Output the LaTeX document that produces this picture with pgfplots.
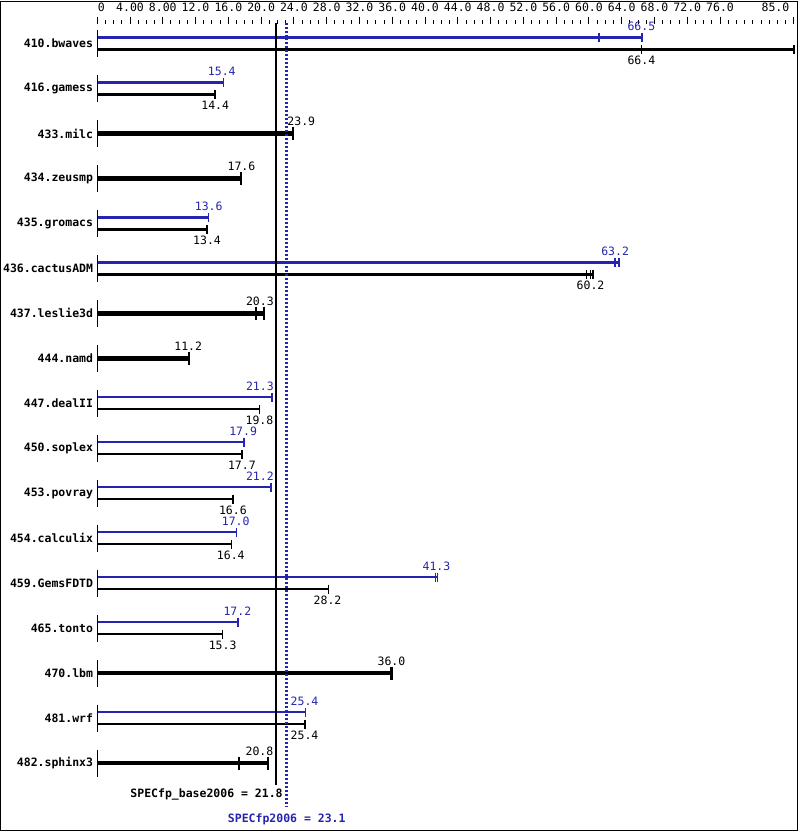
\documentclass[border=0pt]{standalone}
\usepackage{pgfplots}
\pgfplotsset{compat=1.18}
\usepackage{fontspec}
\setmainfont{DejaVu Sans Mono}
\definecolor{specblue}{RGB}{36,36,176}
\newcommand{\sz}{\fontsize{11.5bp}{13bp}\selectfont}
\begin{document}
\begin{tikzpicture}[font=\sz, vlab/.style={font=\sz, inner sep=0pt}]
\begin{axis}[
  scale only axis, width=697bp, height=785bp,
  xmin=0, xmax=85, ymin=-17, ymax=0.4444,
  clip=false,
  axis x line*=top, axis y line*=left,
  axis line style={draw=none},
  /pgf/number format/assume math mode=true,
  xtick={0,4,...,76},
  xticklabels={\hspace*{8bp}0,4.00,8.00,12.0,16.0,20.0,24.0,28.0,32.0,36.0,40.0,44.0,48.0,52.0,56.0,60.0,64.0,68.0,72.0,76.0},
  extra x ticks={85}, extra x tick labels={85.0},
  extra x tick style={xticklabel style={anchor=south east, xshift=-1bp}},
  minor xtick={1,2,...,84},
  xtick align=outside,
  major tick length=7bp, minor tick length=4bp,
  x tick style={black, line width=1bp},
  xticklabel style={font=\sz, yshift=1bp},
  ytick={0,-1,...,-16},
  yticklabels={410.bwaves,416.gamess,433.milc,434.zeusmp,435.gromacs,436.cactusADM,437.leslie3d,444.namd,447.dealII,450.soplex,453.povray,454.calculix,459.GemsFDTD,465.tonto,470.lbm,481.wrf,482.sphinx3},
  ytick align=inside,
  y tick style={draw=none},
  yticklabel style={font=\sz\bfseries, anchor=east, inner sep=0pt, xshift=-4bp},
  peak/.style={specblue, line width=2.3bp, mark=|, mark size=4.5bp, mark options={solid, line width=1.6bp}},
  base/.style={black, line width=2.3bp, mark=|, mark size=4.5bp, mark options={solid, line width=1.6bp}},
  one/.style={black, line width=4.6bp, mark=|, mark size=6.5bp, mark options={solid, line width=2bp}},
]
% row markers at zero
\addplot[only marks, mark=|, mark size=13.5bp, mark options={line width=1bp}, black]
  coordinates {(0,0)(0,-1)(0,-2)(0,-3)(0,-4)(0,-5)(0,-6)(0,-7)(0,-8)(0,-9)(0,-10)(0,-11)(0,-12)(0,-13)(0,-14)(0,-15)(0,-16)};
% 410.bwaves
\addplot[peak, mark indices={2,3}] coordinates {(0,0.1333)(61.2,0.1333)(66.5,0.1333)};
\addplot[base, mark indices={2,3}] coordinates {(0,-0.1333)(66.4,-0.1333)(85,-0.1333)};
% 416.gamess
\addplot[peak, mark indices={2}] coordinates {(0,-0.8667)(15.4,-0.8667)};
\addplot[base, mark indices={2}] coordinates {(0,-1.1333)(14.4,-1.1333)};
% 433.milc
\addplot[one, mark indices={2}] coordinates {(0,-2)(23.9,-2)};
% 434.zeusmp
\addplot[one, mark indices={2}] coordinates {(0,-3)(17.6,-3)};
% 435.gromacs
\addplot[peak, mark indices={2}] coordinates {(0,-3.8667)(13.6,-3.8667)};
\addplot[base, mark indices={2}] coordinates {(0,-4.1333)(13.4,-4.1333)};
% 436.cactusADM
\addplot[peak, mark indices={2,3}] coordinates {(0,-4.8667)(63.2,-4.8667)(63.7,-4.8667)};
\addplot[base, mark indices={2,3,4}] coordinates {(0,-5.1333)(59.7,-5.1333)(60.2,-5.1333)(60.5,-5.1333)};
% 437.leslie3d
\addplot[one, mark indices={2,3,4}] coordinates {(0,-6)(19.4,-6)(20.3,-6)(20.4,-6)};
% 444.namd
\addplot[one, mark indices={2}] coordinates {(0,-7)(11.2,-7)};
% 447.dealII
\addplot[peak, mark indices={2}] coordinates {(0,-7.8667)(21.3,-7.8667)};
\addplot[base, mark indices={2}] coordinates {(0,-8.1333)(19.8,-8.1333)};
% 450.soplex
\addplot[peak, mark indices={2}] coordinates {(0,-8.8667)(17.9,-8.8667)};
\addplot[base, mark indices={2}] coordinates {(0,-9.1333)(17.7,-9.1333)};
% 453.povray
\addplot[peak, mark indices={2}] coordinates {(0,-9.8667)(21.2,-9.8667)};
\addplot[base, mark indices={2}] coordinates {(0,-10.1333)(16.6,-10.1333)};
% 454.calculix
\addplot[peak, mark indices={2}] coordinates {(0,-10.8667)(17.0,-10.8667)};
\addplot[base, mark indices={2}] coordinates {(0,-11.1333)(16.4,-11.1333)};
% 459.GemsFDTD
\addplot[peak, mark indices={2,3}] coordinates {(0,-11.8667)(41.3,-11.8667)(41.5,-11.8667)};
\addplot[base, mark indices={2}] coordinates {(0,-12.1333)(28.2,-12.1333)};
% 465.tonto
\addplot[peak, mark indices={2}] coordinates {(0,-12.8667)(17.2,-12.8667)};
\addplot[base, mark indices={2}] coordinates {(0,-13.1333)(15.3,-13.1333)};
% 470.lbm
\addplot[one, mark indices={2,3}] coordinates {(0,-14)(35.8,-14)(36.0,-14)};
% 481.wrf
\addplot[peak, mark indices={2}] coordinates {(0,-14.8667)(25.4,-14.8667)};
\addplot[base, mark indices={2,3}] coordinates {(0,-15.1333)(25.3,-15.1333)(25.4,-15.1333)};
% 482.sphinx3
\addplot[one, mark indices={2,3}] coordinates {(0,-16)(17.3,-16)(20.8,-16)};
% mean lines
\addplot[black, line width=2.2bp] coordinates {(21.8,0.4667)(21.8,-16.49)};
\addplot[specblue, line width=2.2bp, dash pattern=on 2bp off 2bp] coordinates {(23.1,0.4667)(23.1,-16.96)};
% value labels
\node[vlab, specblue] at (axis cs:66.4,0.378) {66.5};
\node[vlab] at (axis cs:66.4,-0.378) {66.4};
\node[vlab, specblue] at (axis cs:15.2,-0.622) {15.4};
\node[vlab] at (axis cs:14.4,-1.378) {14.4};
\node[vlab] at (axis cs:24.9,-1.74) {23.9};
\node[vlab] at (axis cs:17.6,-2.74) {17.6};
\node[vlab, specblue] at (axis cs:13.6,-3.622) {13.6};
\node[vlab] at (axis cs:13.4,-4.378) {13.4};
\node[vlab, specblue] at (axis cs:63.2,-4.622) {63.2};
\node[vlab] at (axis cs:60.2,-5.378) {60.2};
\node[vlab] at (axis cs:19.85,-5.74) {20.3};
\node[vlab] at (axis cs:11.1,-6.74) {11.2};
\node[vlab, specblue] at (axis cs:19.85,-7.622) {21.3};
\node[vlab] at (axis cs:19.8,-8.378) {19.8};
\node[vlab, specblue] at (axis cs:17.8,-8.622) {17.9};
\node[vlab] at (axis cs:17.65,-9.378) {17.7};
\node[vlab, specblue] at (axis cs:19.85,-9.622) {21.2};
\node[vlab] at (axis cs:16.55,-10.378) {16.6};
\node[vlab, specblue] at (axis cs:16.9,-10.622) {17.0};
\node[vlab] at (axis cs:16.3,-11.378) {16.4};
\node[vlab, specblue] at (axis cs:41.4,-11.622) {41.3};
\node[vlab] at (axis cs:28.1,-12.378) {28.2};
\node[vlab, specblue] at (axis cs:17.1,-12.622) {17.2};
\node[vlab] at (axis cs:15.3,-13.378) {15.3};
\node[vlab] at (axis cs:35.9,-13.74) {36.0};
\node[vlab, specblue] at (axis cs:25.3,-14.622) {25.4};
\node[vlab] at (axis cs:25.3,-15.378) {25.4};
\node[vlab] at (axis cs:19.8,-15.74) {20.8};
% summary labels
\node[font=\sz\bfseries, inner sep=0pt, anchor=east] at (axis cs:22.65,-16.696) {SPECfp\_base2006 = 21.8};
\node[font=\sz\bfseries, inner sep=0pt, text=specblue] at (axis cs:23.13,-17.25) {SPECfp2006 = 23.1};
% frame
\draw[line width=1bp, black] (axis cs:-11.805,0.9444) rectangle (axis cs:85.51,-17.5);
\end{axis}
\end{tikzpicture}
\end{document}
